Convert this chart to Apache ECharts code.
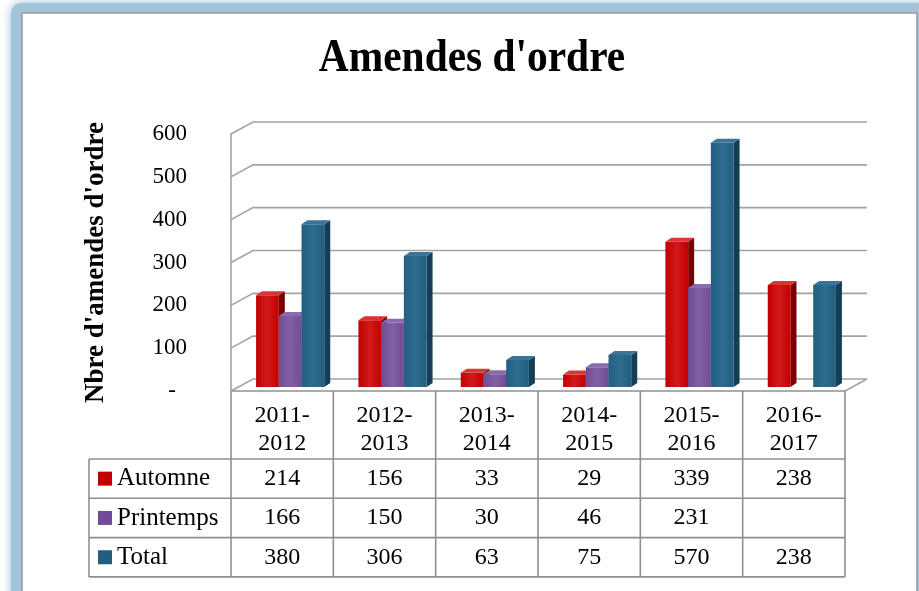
<!DOCTYPE html>
<html>
<head>
<meta charset="utf-8">
<title>Amendes d'ordre</title>
<script src="https://cdn.jsdelivr.net/npm/echarts@6/dist/echarts.min.js"></script>
<style>
html, body { margin: 0; padding: 0; background: #fff; }
#main { width: 919px; height: 591px; }
</style>
</head>
<body>
<div id="main"></div>
<script>
// données
var categories = ['2011-2012', '2012-2013', '2013-2014', '2014-2015', '2015-2016', '2016-2017'];
var automne = [214, 156, 33, 29, 339, 238];
var printemps = [166, 150, 30, 46, 231, null];
var total = [380, 306, 63, 75, 570, 238];
var yTicks = [0, 100, 200, 300, 400, 500, 600];
var seriesNames = ['Automne', 'Printemps', 'Total'];

// couleurs: face avant, côté, dessus
var palette = [
	{ front: '#c00000', light: '#d21a1a', side: '#7c0000', top: '#d83636' },
	{ front: '#714c96', light: '#8160a6', side: '#4b3068', top: '#8a6cad' },
	{ front: '#235e80', light: '#2d6d91', side: '#153d55', top: '#3a7597' }
];
var FONT = '"Liberation Serif", "Times New Roman", serif';
var WALL = [22, -12];   // profondeur des murs
var BAR_OFF = [8, -4];  // position des barres dans la profondeur
var BAR_D = [6, -4];    // épaisseur des barres

var chart = echarts.init(document.getElementById('main'));

// barres 3D
function barItem(si) {
	return function (params, api) {
		var v = api.value(1);
		if (v === null || v === undefined || isNaN(v)) {
			return;
		}
		var base = api.coord([api.value(0), 0]);
		var top = api.coord([api.value(0), v]);
		var band = api.size([1, 0])[0];
		var bw = band * 0.222;
		var x0 = base[0] - 1.5 * bw + si * bw + BAR_OFF[0];
		var x1 = x0 + bw;
		var yb = base[1] + BAR_OFF[1];
		var yt = top[1] + BAR_OFF[1];
		var c = palette[si];
		return {
			type : 'group',
			children : [ {
				type : 'polygon',
				shape : { points : [ [x1, yb], [x1 + BAR_D[0], yb + BAR_D[1]], [x1 + BAR_D[0], yt + BAR_D[1]], [x1, yt] ] },
				style : { fill : c.side }
			}, {
				type : 'rect',
				shape : { x : x0, y : yt, width : bw, height : yb - yt },
				style : {
					fill : new echarts.graphic.LinearGradient(0, 0, 1, 0, [
						{ offset : 0, color : c.front },
						{ offset : 0.5, color : c.light },
						{ offset : 1, color : c.front }
					])
				}
			}, {
				type : 'polygon',
				shape : { points : [ [x0, yt], [x1, yt], [x1 + BAR_D[0], yt + BAR_D[1]], [x0 + BAR_D[0], yt + BAR_D[1]] ] },
				style : { fill : c.top }
			} ]
		};
	};
}

// murs et quadrillage
function wallItem(params, api) {
	var p = api.coord([0, api.value(1)]);
	var cs = params.coordSys;
	var xl = cs.x, xr = cs.x + cs.width, y = p[1];
	var children = [ {
		type : 'polyline',
		shape : { points : [ [xl, y], [xl + WALL[0], y + WALL[1]], [xr + WALL[0], y + WALL[1]] ] },
		style : { stroke : '#a3a3a3', lineWidth : 1.6, fill : null }
	} ];
	if (api.value(1) === 0) {
		children.push({
			type : 'line',
			shape : { x1 : xr, y1 : y, x2 : xr + WALL[0], y2 : y + WALL[1] },
			style : { stroke : '#a3a3a3', lineWidth : 1.6 }
		});
	}
	return { type : 'group', children : children };
}

var dataSets = [automne, printemps, total];
var series = [ {
	name : 'murs',
	type : 'custom',
	renderItem : wallItem,
	data : yTicks.map(function (v) { return [0, v]; }),
	silent : true,
	z : 1
} ];
dataSets.forEach(function (d, si) {
	series.push({
		name : seriesNames[si],
		type : 'custom',
		renderItem : barItem(si),
		data : d.map(function (v, i) { return [i, v]; }),
		z : 2
	});
});

chart.setOption({
	animation : false,
	backgroundColor : '#ffffff',
	grid : { left : 231, right : 74, top : 134, bottom : 200 },
	xAxis : {
		type : 'category',
		data : categories,
		axisLine : { show : false },
		axisTick : { show : false },
		axisLabel : {
			interval : 0,
			margin : 11,
			fontFamily : FONT,
			fontSize : 24,
			lineHeight : 28,
			color : '#000',
			formatter : function (v) { return v.replace('-', '-\n'); }
		}
	},
	yAxis : {
		type : 'value',
		min : 0,
		max : 600,
		interval : 100,
		name : "Nbre d'amendes d'ordre",
		nameLocation : 'middle',
		nameRotate : 90,
		nameGap : 121,
		nameTextStyle : { fontFamily : FONT, fontWeight : 'bold', fontSize : 27, color : '#000' },
		axisLine : { show : true, lineStyle : { color : '#a3a3a3', width : 1.6 } },
		axisTick : { show : false },
		splitLine : { show : false },
		axisLabel : {
			margin : 44,
			fontFamily : FONT,
			fontSize : 23,
			color : '#000',
			formatter : function (v) { return v === 0 ? '{d|-}' : String(v); },
			rich : { d : { fontFamily : FONT, fontSize : 23, color : '#000', padding : [0, 11, 0, 0] } }
		}
	},
	series : series
});

// cadre, titre et tableau de données
var xs = categories.map(function (c, i) { return chart.convertToPixel({ xAxisIndex : 0 }, i); });
var band = xs[1] - xs[0];
var tLeft = xs[0] - band / 2;
var tRight = xs[xs.length - 1] + band / 2;
var yFloor = chart.convertToPixel({ yAxisIndex : 0 }, 0);
var headBottom = yFloor + 68;
var rowH = 39.3;
var legLeft = 89;
var lineStyle = { stroke : '#8f8f8f', lineWidth : 1.6 };

var elements = [ {
	// halo bleu autour du cadre
	type : 'rect',
	shape : { x : 11, y : 3, width : 920, height : 620, r : 10 },
	style : {
		fill : '#a2c4d9',
		shadowBlur : 10,
		shadowColor : 'rgba(140,182,210,0.9)'
	},
	z : -10
}, {
	type : 'rect',
	shape : { x : 22, y : 13, width : 895, height : 600 },
	style : { fill : '#ffffff', stroke : '#9a9a9a', lineWidth : 1.5 },
	z : -9
}, {
	type : 'text',
	x : 472,
	y : 59,
	scaleX : 0.9,
	style : {
		text : "Amendes d'ordre",
		font : 'bold 46px ' + FONT,
		fill : '#000',
		align : 'center',
		verticalAlign : 'middle'
	}
} ];

// lignes du tableau
elements.push({ type : 'line', shape : { x1 : tLeft, y1 : yFloor, x2 : tRight, y2 : yFloor }, style : lineStyle });
for (var r = 0; r <= seriesNames.length; r++) {
	var yy = headBottom + r * rowH;
	elements.push({ type : 'line', shape : { x1 : legLeft, y1 : yy, x2 : tRight, y2 : yy }, style : lineStyle });
}
var tBottom = headBottom + seriesNames.length * rowH;
elements.push({ type : 'line', shape : { x1 : legLeft, y1 : headBottom, x2 : legLeft, y2 : tBottom }, style : lineStyle });
for (var k = 0; k <= categories.length; k++) {
	var xx = tLeft + k * band;
	elements.push({ type : 'line', shape : { x1 : xx, y1 : yFloor, x2 : xx, y2 : tBottom }, style : lineStyle });
}

// légende et valeurs
dataSets.forEach(function (d, si) {
	var cy = headBottom + (si + 0.5) * rowH;
	elements.push({
		type : 'rect',
		shape : { x : 98, y : cy - 7, width : 14, height : 14 },
		style : { fill : palette[si].front }
	});
	elements.push({
		type : 'text',
		x : 117,
		y : cy,
		style : { text : seriesNames[si], font : '25px ' + FONT, fill : '#000', align : 'left', verticalAlign : 'middle' }
	});
	d.forEach(function (v, i) {
		if (v === null) {
			return;
		}
		elements.push({
			type : 'text',
			x : xs[i],
			y : cy,
			style : { text : String(v), font : '24px ' + FONT, fill : '#000', align : 'center', verticalAlign : 'middle' }
		});
	});
});

chart.setOption({ graphic : { elements : elements } });
</script>
</body>
</html>
